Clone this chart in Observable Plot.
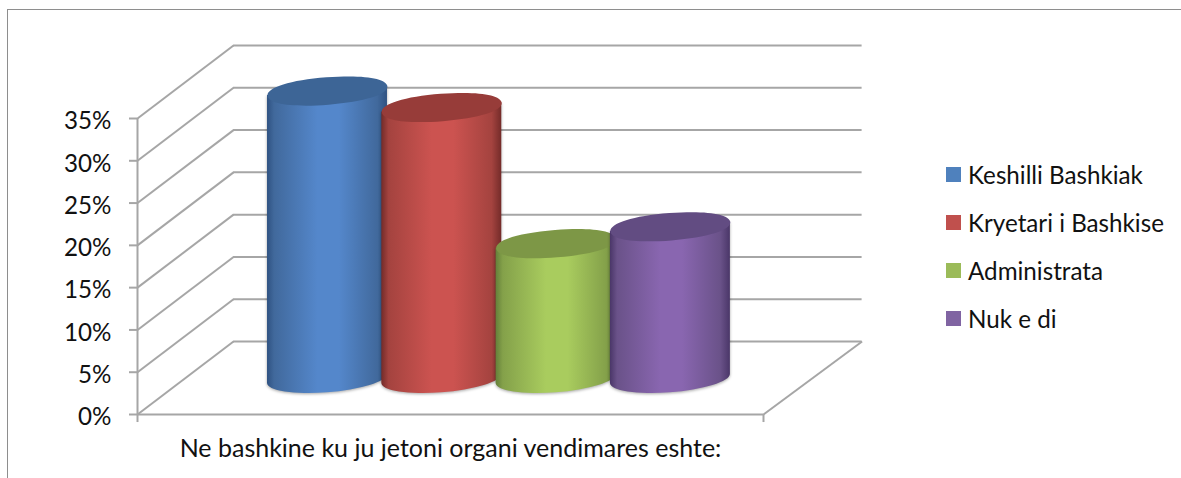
<!DOCTYPE html>
<html>
<head>
<meta charset="utf-8">
<style>
  html, body { margin: 0; padding: 0; background: #fff; overflow: hidden; }
  #frame { position: absolute; left: 7px; top: 9px; right: -4px; bottom: -4px; border-top: 1.5px solid #8e8e8e; border-left: 1.5px solid #8e8e8e; }
  #chart { position: absolute; left: 0; top: 0; }
  #legend { position: absolute; left: 946px; top: 150px; font-family: Lato, "Noto Sans", sans-serif; font-size: 24.2px; color: #111; }
  #legend .row { display: flex; align-items: center; height: 48px; white-space: nowrap; }
  #legend .sw { width: 15px; height: 15px; margin-right: 7px; flex: none; }
</style>
<script src="https://cdn.jsdelivr.net/npm/d3@7"></script>
<script src="https://cdn.jsdelivr.net/npm/@observablehq/plot@0.6"></script>
</head>
<body>
<div id="frame"></div>
<div id="chart"></div>
<div id="legend"></div>
<script>
const categories = ["Keshilli Bashkiak", "Kryetari i Bashkise", "Administrata", "Nuk e di"];
const values = [34.05, 32.1, 16, 18];
const yTicks = [0, 5, 10, 15, 20, 25, 30, 35];
const xTitle = "Ne bashkine ku ju jetoni organi vendimares eshte:";

const swatchColors = ["#4f81bd", "#c0504d", "#9bbb59", "#8064a2"];
const topColors = ["#3d6596", "#973c39", "#7d9746", "#624c82"];
const edgeColors = ["#2f5282", "#742b29", "#64803a", "#4a3668"];
const sideColors = ["#41699c", "#a4433f", "#84a14a", "#6a5289"];
const midColors = ["#5487cb", "#cc5350", "#a9cc5e", "#8966b0"];

// layout in data units: x 0..1 is the floor's front edge, y is percent
const depthX = 0.1534, depthY = 8.63;        // oblique offset of the back wall
const backRight = 1.1575;                    // right end of the back wall lines
const firstCentre = 0.3035, step = 0.1826;   // cylinder centres
const halfWidth = 0.0958;                    // cylinder half width
const baseY = 4.2;                           // cylinder base, mid depth

const A = 60.1, B = 13.7, TILT = -4.5 * Math.PI / 180;
const rows = categories.map((c, i) => ({
  c, v: values[i], cx: firstCentre + i * step, i
}));

// tilted, slightly squared ellipse symbol
const ellipseSymbol = {
  draw(ctx) {
    const k = 0.6, cos = Math.cos(TILT), sin = Math.sin(TILT);
    const p = (u, v) => [u * cos - v * sin, u * sin + v * cos];
    const a = A, b = B;
    ctx.moveTo(...p(a, 0));
    ctx.bezierCurveTo(...p(a, k * b), ...p(k * a, b), ...p(0, b));
    ctx.bezierCurveTo(...p(-k * a, b), ...p(-a, k * b), ...p(-a, 0));
    ctx.bezierCurveTo(...p(-a, -k * b), ...p(-k * a, -b), ...p(0, -b));
    ctx.bezierCurveTo(...p(k * a, -b), ...p(a, -k * b), ...p(a, 0));
    ctx.closePath();
  }
};

// turn each rect of the mark into a cylinder side: straight sides, elliptical bottom
function cylinderBody(index, scales, vals, dims, ctx, next) {
  const g = next(index, scales, vals, dims, ctx);
  const off = 4.5;
  g.querySelectorAll("rect").forEach(r => {
    const x = +r.getAttribute("x"), y = +r.getAttribute("y");
    const w = +r.getAttribute("width"), h = +r.getAttribute("height");
    const path = document.createElementNS("http://www.w3.org/2000/svg", "path");
    const deg = TILT * 180 / Math.PI;
    path.setAttribute("d",
      `M${x},${y + off}L${x},${y + h + off}A${A},${B} ${deg} 0 0 ${x + w},${y + h - off}L${x + w},${y - off}Z`);
    path.setAttribute("style", "filter:drop-shadow(0 1px 1.5px rgba(0,0,0,.35))");
    r.replaceWith(path);
  });
  return g;
}

const defs = () => {
  const svgNS = "http://www.w3.org/2000/svg";
  const d = document.createElementNS(svgNS, "defs");
  categories.forEach((c, i) => {
    const lg = document.createElementNS(svgNS, "linearGradient");
    lg.setAttribute("id", "cyl" + i);
    [[0, edgeColors[i]], [0.06, sideColors[i]], [0.42, midColors[i]], [0.6, midColors[i]],
     [0.92, sideColors[i]], [1, edgeColors[i]]].forEach(([o, col]) => {
      const s = document.createElementNS(svgNS, "stop");
      s.setAttribute("offset", o);
      s.setAttribute("stop-color", col);
      lg.appendChild(s);
    });
    d.appendChild(lg);
  });
  return d;
};

const gridStroke = { stroke: "#a6a6a6", strokeWidth: 2 };

const plot = Plot.plot({
  width: 1181,
  height: 478,
  marginLeft: 137,
  marginRight: 418,
  marginTop: 118,
  marginBottom: 64,
  style: { fontFamily: "Lato, 'Noto Sans', sans-serif", fontSize: "24.2px", color: "#111", background: "transparent" },
  x: { domain: [0, 1], axis: null },
  y: { domain: [0, 35], axis: null },
  marks: [
    defs,
    // back wall and oblique side-wall lines
    Plot.ruleY(yTicks, { y: d => d + depthY, x1: depthX, x2: backRight, ...gridStroke }),
    Plot.link(yTicks, { x1: 0, y1: d => d, x2: depthX, y2: d => d + depthY, ...gridStroke }),
    // floor
    Plot.ruleY([0], { x1: 0, x2: 1, ...gridStroke }),
    Plot.link([0], { x1: 1, y1: 0, x2: backRight, y2: depthY, ...gridStroke }),
    Plot.ruleX([0, 1], { y1: -0.95, y2: 0, ...gridStroke }),
    Plot.ruleX([0], { y1: 0, y2: 35, ...gridStroke }),
    // cylinders, later ones over earlier ones
    ...rows.flatMap(r => [
      Plot.rect([r], {
        x1: d => d.cx - halfWidth, x2: d => d.cx + halfWidth,
        y1: baseY, y2: d => baseY + d.v,
        fill: `url(#cyl${r.i})`,
        render: cylinderBody
      }),
      Plot.dot([r], {
        x: "cx", y: d => baseY + d.v,
        symbol: ellipseSymbol, r: 60,
        fill: topColors[r.i]
      })
    ]),
    // axis tick marks, then labels nudged down a little
    Plot.axisY(yTicks, {
      anchor: "left", tickSize: 8, label: null, tickFormat: () => "",
      stroke: "#a6a6a6", strokeWidth: 2
    }),
    Plot.axisY(yTicks, {
      anchor: "left", tickSize: 0, tickPadding: 26, label: null, fontSize: 24.2, dy: 3,
      tickFormat: d => d + "%", fill: "#111", textStroke: "none"
    }),
    Plot.text([xTitle], { x: 0.5, y: 0, dy: 34, fill: "#111", fontSize: 25 })
  ]
});
document.getElementById("chart").appendChild(plot);

const legend = document.getElementById("legend");
categories.forEach((c, i) => {
  const row = document.createElement("div");
  row.className = "row";
  const sw = document.createElement("span");
  sw.className = "sw";
  sw.style.background = swatchColors[i];
  const t = document.createElement("span");
  t.textContent = c;
  row.append(sw, t);
  legend.appendChild(row);
});
</script>
</body>
</html>
